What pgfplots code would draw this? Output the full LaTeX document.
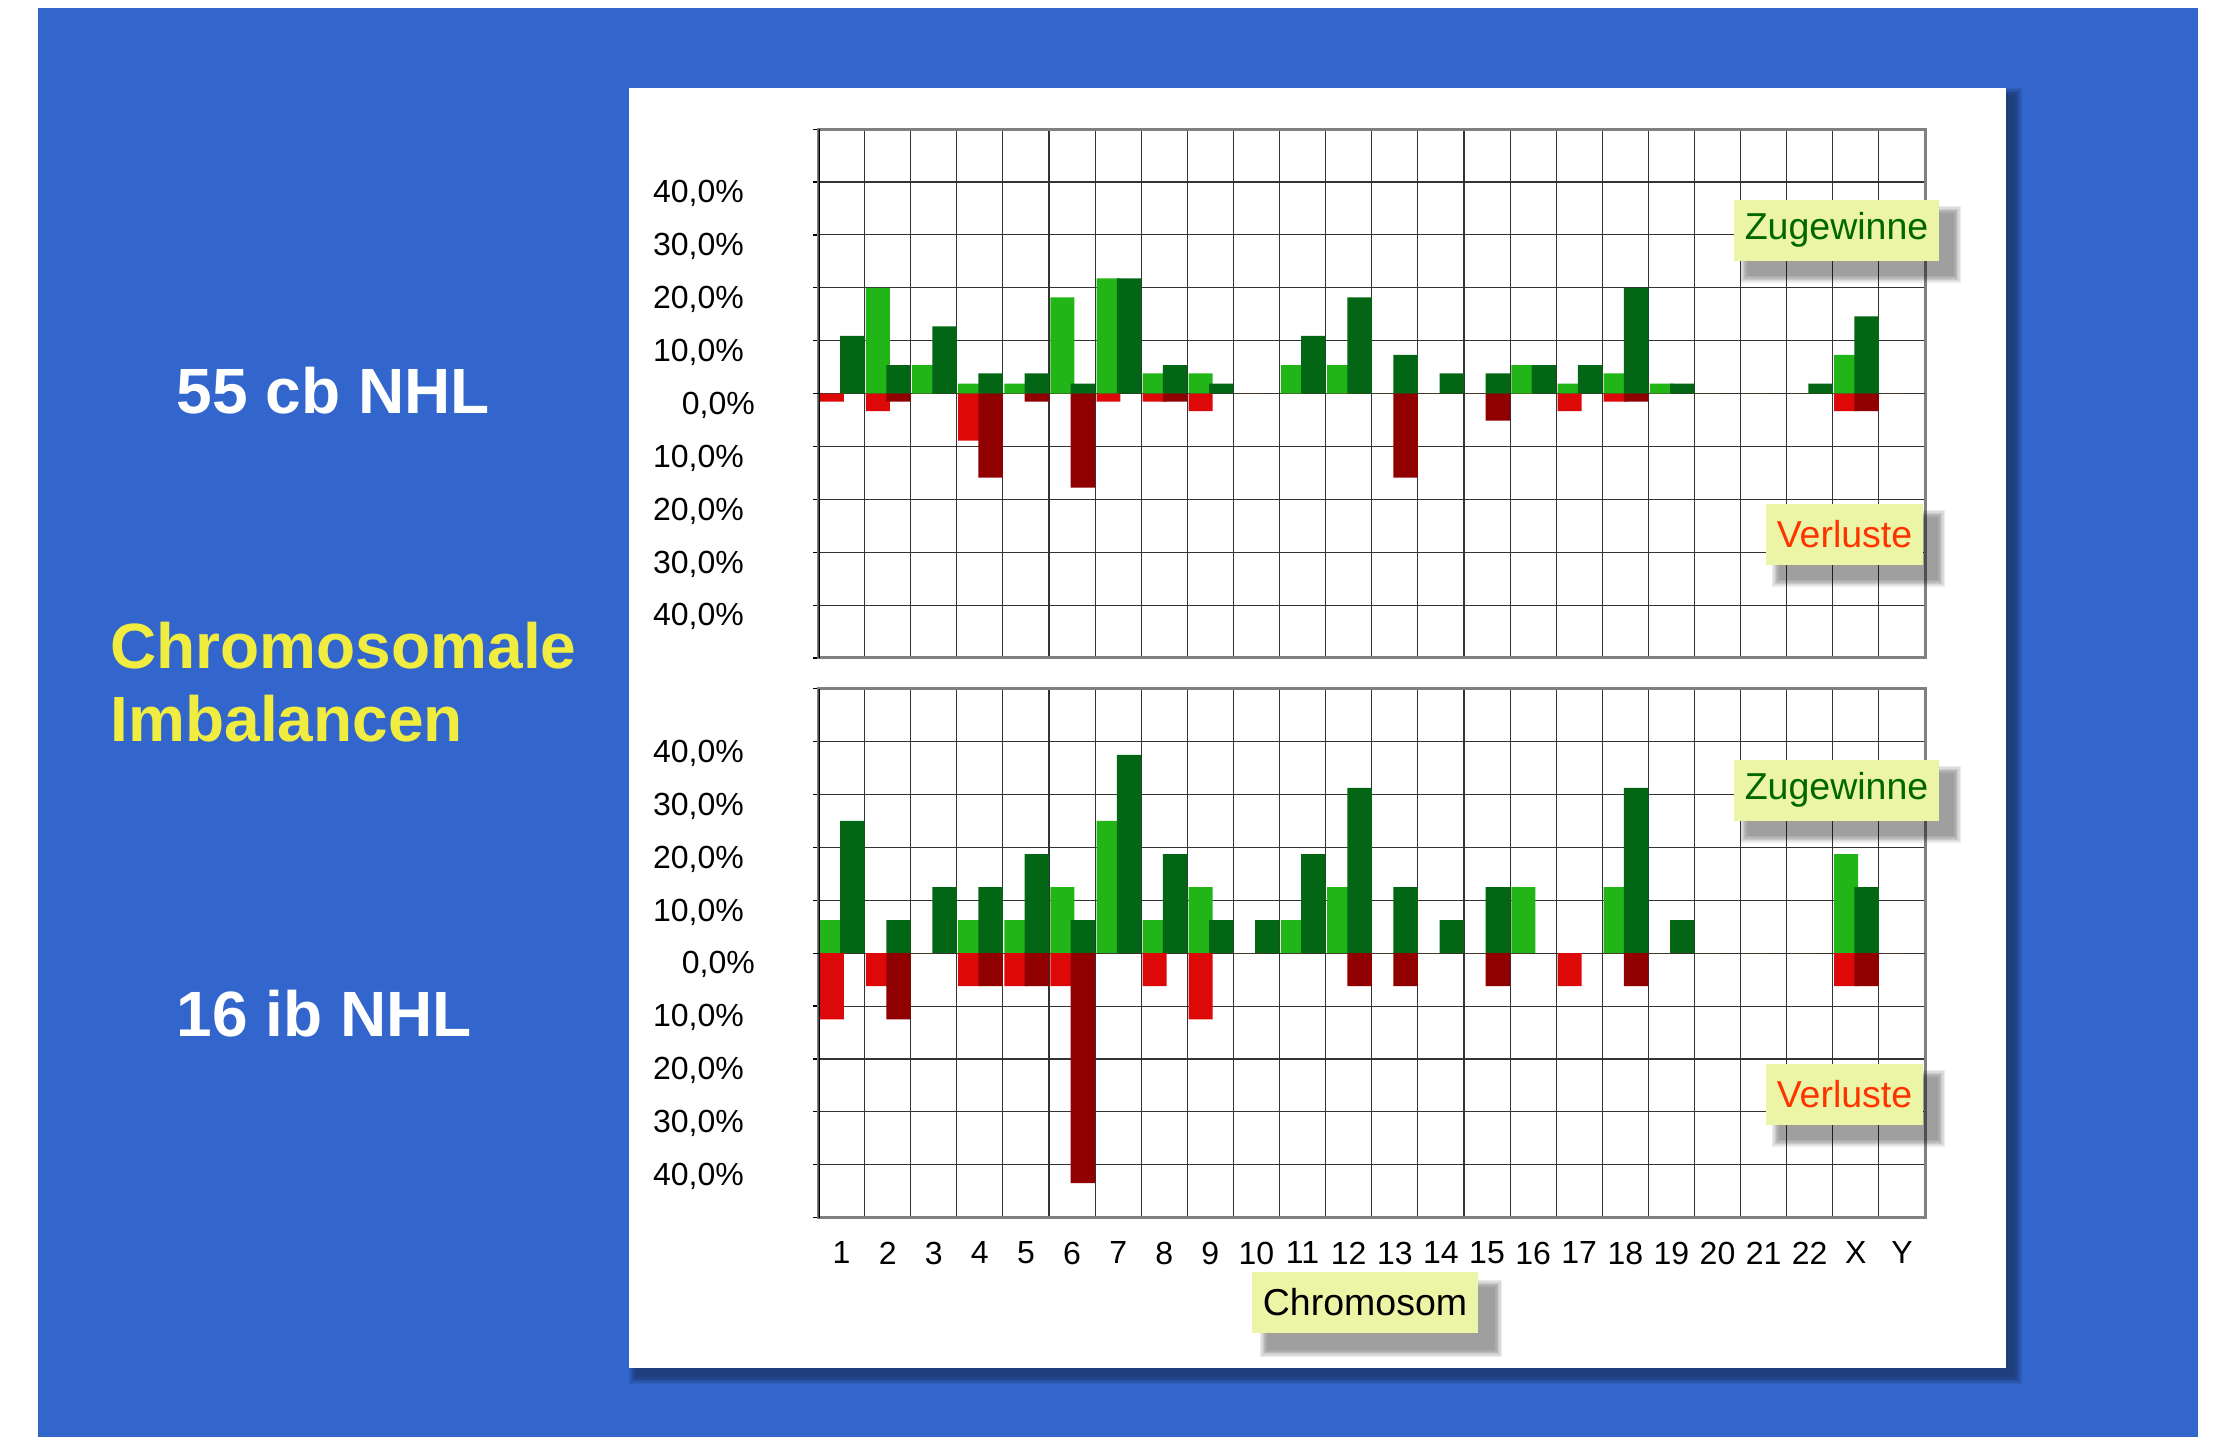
\documentclass[border=0pt]{standalone}
\usepackage{pgfplots}
\pgfplotsset{compat=1.18}
\usepackage{pgfplotstable}
\usepackage{fontspec}
\setmainfont{Liberation Sans}

\definecolor{bluebg}{RGB}{51,102,204}
\definecolor{lgreen}{RGB}{33,181,24}
\definecolor{dgreen}{RGB}{3,102,21}
\definecolor{lred}{RGB}{221,8,8}
\definecolor{dred}{RGB}{145,0,0}
\definecolor{ytext}{RGB}{240,236,64}
\definecolor{boxfill}{RGB}{236,245,165}
\definecolor{zugtext}{RGB}{0,102,0}
\definecolor{verltext}{RGB}{255,51,0}

\newcommand{\zerolab}{0,0\%}

\pgfplotstableread{
x lg dg lr dr
1 0 10.9 -1.5 0
2 20.0 5.4 -3.3 -1.5
3 5.4 12.7 0 0
4 1.9 3.8 -8.9 -15.9
5 1.9 3.8 0 -1.5
6 18.2 1.9 0 -17.8
7 21.8 21.8 -1.5 0
8 3.8 5.4 -1.5 -1.5
9 3.8 1.9 -3.3 0
10 0 0 0 0
11 5.4 10.9 0 0
12 5.4 18.2 0 0
13 0 7.3 0 -15.9
14 0 3.8 0 0
15 0 3.8 0 -5.1
16 5.4 5.4 0 0
17 1.9 5.4 -3.3 0
18 3.8 20.0 -1.5 -1.5
19 1.9 1.9 0 0
20 0 0 0 0
21 0 0 0 0
22 0 1.9 0 0
23 7.3 14.6 -3.3 -3.3
24 0 0 0 0
}\topdata

\pgfplotstableread{
x lg dg lr dr
1 6.25 25 -12.5 0
2 0 6.25 -6.25 -12.5
3 0 12.5 0 0
4 6.25 12.5 -6.25 -6.25
5 6.25 18.75 -6.25 -6.25
6 12.5 6.25 -6.25 -43.5
7 25 37.5 0 0
8 6.25 18.75 -6.25 0
9 12.5 6.25 -12.5 0
10 0 6.25 0 0
11 6.25 18.75 0 0
12 12.5 31.25 0 -6.25
13 0 12.5 0 -6.25
14 0 6.25 0 0
15 0 12.5 0 -6.25
16 12.5 0 0 0
17 0 0 -6.25 0
18 12.5 31.25 0 -6.25
19 0 6.25 0 0
20 0 0 0 0
21 0 0 0 0
22 0 0 0 0
23 18.75 12.5 -6.25 -6.25
24 0 0 0 0
}\botdata

\pgfplotsset{
  chr/.style={
    scale only axis, width=331.95pt, height=158.64pt,
    xmin=0.5, xmax=24.5, ymin=-50, ymax=50,
    axis line style={draw=black!50, line width=0.9pt},
    ytick={-50,-40,-30,-20,-10,10,20,30,40,50},
    yticklabels={{},{40,0\%},{30,0\%},{20,0\%},{10,0\%},{10,0\%},{20,0\%},{30,0\%},{40,0\%},{}},
    extra y ticks={0},
    extra y tick labels={\zerolab},
    extra y tick style={yticklabel style={xshift=3.3pt}},
    ymajorgrids,
    xtick={1,...,24},
    minor xtick={1.5,2.5,...,23.5},
    xminorgrids,
    major grid style={black!80, line width=0.33pt},
    minor grid style={black!80, line width=0.33pt},
    ytick pos=left, tick align=outside,
    major tick length=1.8pt, minor tick length=0pt,
    ytick style={black, line width=0.35pt},
    xtick style={draw=none},
    yticklabel style={font=\fontsize{9.6pt}{11pt}\selectfont, anchor=east, inner sep=0pt, xshift=-20.4pt, yshift=-3.5pt},
    xticklabel style={font=\fontsize{9.6pt}{11pt}\selectfont, anchor=north, inner sep=0pt, yshift=-5.25pt},
  },
  lgbar/.style={ybar, bar width=0.52, bar shift=-0.21, fill=lgreen, draw=none},
  dgbar/.style={ybar, bar width=0.53, bar shift=0.235, fill=dgreen, draw=none},
  lrbar/.style={ybar, bar width=0.52, bar shift=-0.21, fill=lred, draw=none},
  drbar/.style={ybar, bar width=0.53, bar shift=0.235, fill=dred, draw=none},
}

\newcommand{\softshadow}[6]{%
  \foreach \k in {1,...,6}{%
    \pgfmathsetmacro{\e}{(7-\k)*#6/6}%
    \fill[black, opacity=0.075] ({#1+#5-\e},{#2-#5-\e}) rectangle ({#3+#5+\e},{#4-#5+\e});
  }%
}

\begin{document}
\begin{tikzpicture}
\useasboundingbox (0,0) rectangle (666.9pt,431.1pt);
\begin{scope}[x=0.3pt,y=0.3pt]
  \fill[white] (0,0) rectangle (2223,1437);
  \fill[bluebg] (38,0) rectangle (2198,1429);
  \softshadow{629}{69}{2006}{1349}{8}{8}
  \fill[white] (629,69) rectangle (2006,1349);
  \node[anchor=base west, inner sep=0pt, text=white, font=\fontsize{19.2pt}{23pt}\selectfont\bfseries] at (176,1023) {55 cb NHL};
  \node[anchor=base west, inner sep=0pt, text=ytext, font=\fontsize{19.2pt}{23pt}\selectfont\bfseries] at (110,768) {Chromosomale};
  \node[anchor=base west, inner sep=0pt, text=ytext, font=\fontsize{19.2pt}{23pt}\selectfont\bfseries] at (110,695) {Imbalancen};
  \node[anchor=base west, inner sep=0pt, text=white, font=\fontsize{19.2pt}{23pt}\selectfont\bfseries] at (176,400) {16 ib NHL};
\end{scope}

\begin{axis}[chr, at={(245.55pt,233.7pt)}, anchor=south west, xticklabel style={opacity=0}]
  \addplot[lgbar] table[x=x,y=lg]{\topdata};
  \addplot[dgbar] table[x=x,y=dg]{\topdata};
  \addplot[lrbar] table[x=x,y=lr]{\topdata};
  \addplot[drbar] table[x=x,y=dr]{\topdata};
  \draw[black, line width=0.6pt] (rel axis cs:0,0) -- (rel axis cs:0,1);
\end{axis}

\begin{axis}[chr, at={(245.55pt,65.82pt)}, anchor=south west,
  xticklabels={1,2,3,4,5,6,7,8,9,10,11,12,13,14,15,16,17,18,19,20,21,22,X,Y}]
  \addplot[lgbar] table[x=x,y=lg]{\botdata};
  \addplot[dgbar] table[x=x,y=dg]{\botdata};
  \addplot[lrbar] table[x=x,y=lr]{\botdata};
  \addplot[drbar] table[x=x,y=dr]{\botdata};
  \draw[black, line width=0.6pt] (rel axis cs:0,0) -- (rel axis cs:0,1);
\end{axis}

\begin{scope}[x=0.3pt,y=0.3pt]
  % top panel boxes
  \softshadow{1734}{1176.4}{1939}{1237}{14}{8}
  \node[fill=boxfill, minimum width=61.5pt, minimum height=18.2pt, inner sep=0pt, text=zugtext, font=\fontsize{11.25pt}{13pt}\selectfont] at (1836.5,1206.7) {Zugewinne};
  \softshadow{1766}{872.3}{1923}{933}{14}{8}
  \node[fill=boxfill, minimum width=47.1pt, minimum height=18.2pt, inner sep=0pt, text=verltext, font=\fontsize{11.25pt}{13pt}\selectfont] at (1844.5,902.6) {Verluste};
  % bottom panel boxes
  \softshadow{1734}{616.4}{1939}{677}{14}{8}
  \node[fill=boxfill, minimum width=61.5pt, minimum height=18.2pt, inner sep=0pt, text=zugtext, font=\fontsize{11.25pt}{13pt}\selectfont] at (1836.5,646.7) {Zugewinne};
  \softshadow{1766}{312.3}{1923}{373}{14}{8}
  \node[fill=boxfill, minimum width=47.1pt, minimum height=18.2pt, inner sep=0pt, text=verltext, font=\fontsize{11.25pt}{13pt}\selectfont] at (1844.5,342.6) {Verluste};
  % x label box
  \softshadow{1252}{104}{1478}{165}{16}{8}
  \node[fill=boxfill, minimum width=67.8pt, minimum height=18.3pt, inner sep=0pt, text=black, font=\fontsize{11.25pt}{13pt}\selectfont] at (1365,134.5) {Chromosom};
\end{scope}
\end{tikzpicture}
\end{document}
